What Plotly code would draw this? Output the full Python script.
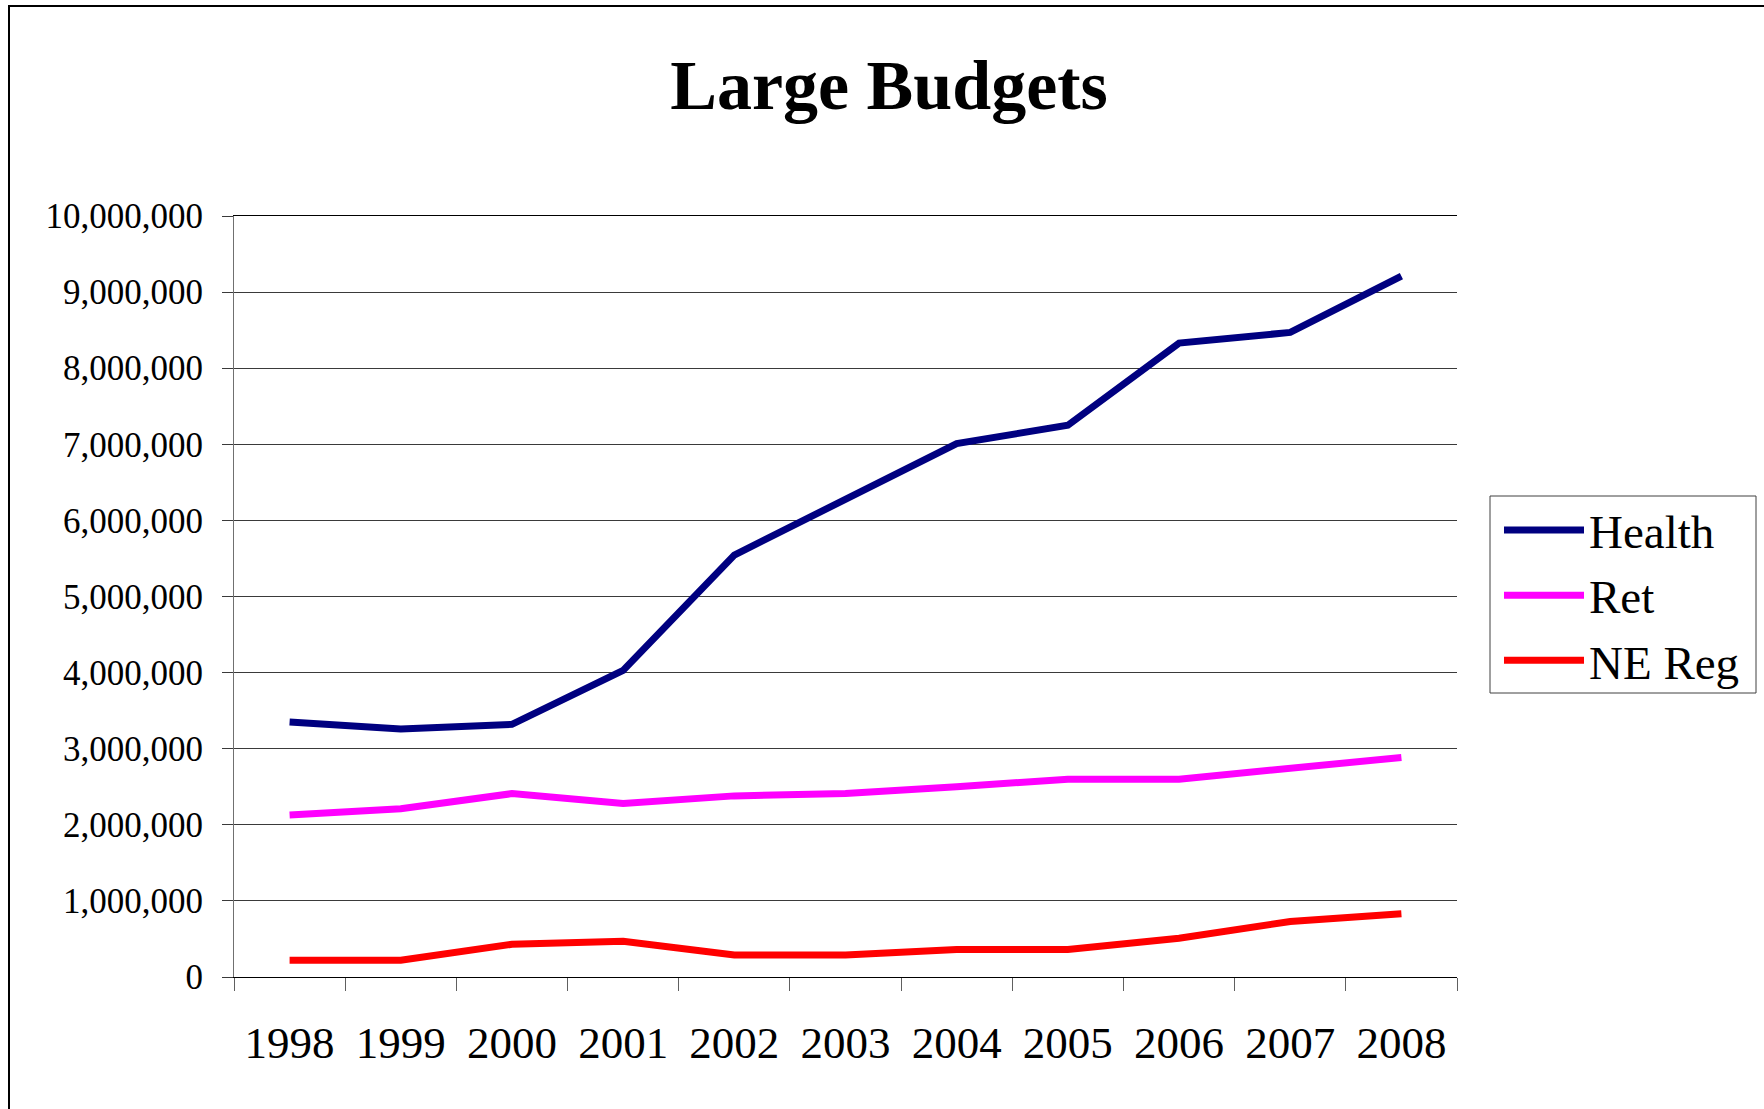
import plotly.graph_objects as go

# Annual budgets, 1998-2008
years = ["1998", "1999", "2000", "2001", "2002", "2003", "2004", "2005", "2006", "2007", "2008"]
health = [3350000, 3260000, 3320000, 4030000, 5545000, 6280000, 7010000, 7250000, 8330000, 8470000, 9210000]
ret = [2130000, 2210000, 2410000, 2280000, 2380000, 2410000, 2500000, 2600000, 2600000, 2740000, 2885000]
ne_reg = [220000, 220000, 430000, 470000, 290000, 290000, 360000, 360000, 510000, 730000, 830000]

series_names = ["Health", "Ret", "NE Reg"]
series_values = [health, ret, ne_reg]
series_colors = ["#000080", "#FF00FF", "#FF0000"]

W, H = 1764, 1109
ML, MR, MT, MB = 234, 307, 216, 132
SERIF = "Liberation Serif, Times New Roman, serif"


def px_x(p):
    return (p - ML) / (W - ML - MR)


def px_y(p):
    return (H - MB - p) / (H - MT - MB)


fig = go.Figure()
for name, vals, col in zip(series_names, series_values, series_colors):
    fig.add_trace(go.Scatter(
        x=years, y=vals, name=name, mode="lines",
        line=dict(color=col, width=7),
        legendgroup=name,
    ))

fig.update_layout(
    width=W, height=H, autosize=False,
    margin=dict(l=ML, r=MR, t=MT, b=MB),
    paper_bgcolor="white", plot_bgcolor="white",
    font=dict(family=SERIF, color="black"),
    title=dict(
        text="Large Budgets",
        font=dict(family=SERIF, size=70, color="black", weight=700),
        x=889 / W, xanchor="center", xref="container",
        y=1 - 84 / H, yanchor="middle", yref="container",
    ),
    showlegend=True,
    legend=dict(
        x=px_x(1499), y=px_y(493), xanchor="left", yanchor="top",
        borderwidth=0, bgcolor="rgba(0,0,0,0)",
        font=dict(family=SERIF, size=47, color="black"),
        itemwidth=80, tracegroupgap=1,
    ),
)

fig.update_xaxes(
    type="category", range=[-0.5, 10.5],
    showgrid=False, showline=True, linecolor="black", linewidth=1, mirror=True,
    ticks="outside", tickson="boundaries", ticklen=13, tickcolor="#606060", tickwidth=1,
    tickfont=dict(family=SERIF, size=45, color="black"),
    ticklabelstandoff=26,
)
fig.update_yaxes(
    range=[0, 10000000], dtick=1000000, tickformat=",d",
    showgrid=True, gridcolor="#3a3a3a", gridwidth=1,
    zeroline=False, showline=True, linecolor="#707070", linewidth=1,
    ticks="outside", ticklen=11, tickcolor="#3a3a3a", tickwidth=1,
    tickfont=dict(family=SERIF, size=35, color="black"),
    ticklabelstandoff=12,
)

# Legend frame
fig.add_shape(type="rect", xref="paper", yref="paper",
              x0=px_x(1490), x1=px_x(1756), y0=px_y(496), y1=px_y(693),
              line=dict(color="#404040", width=1), fillcolor="rgba(0,0,0,0)")

# Outer chart frame (left and top edges)
fig.add_shape(type="line", xref="paper", yref="paper",
              x0=px_x(9), x1=px_x(9), y0=px_y(6), y1=px_y(H + 10),
              line=dict(color="black", width=2))
fig.add_shape(type="line", xref="paper", yref="paper",
              x0=px_x(8), x1=px_x(W + 10), y0=px_y(6), y1=px_y(6),
              line=dict(color="black", width=2))

fig.write_html("out.html")
